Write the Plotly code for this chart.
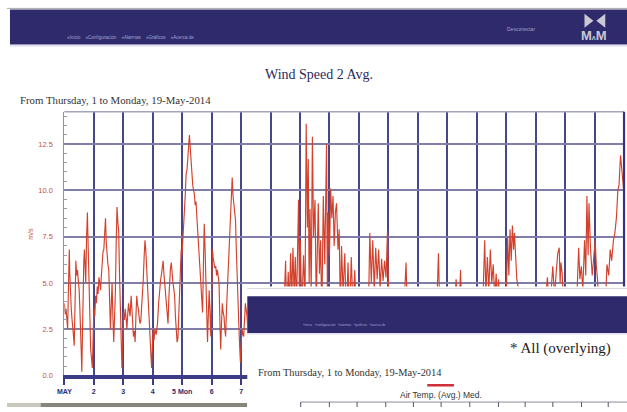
import plotly.graph_objects as go

W, H = 627, 412

# ---- data: wind speed 2 avg (m/s), May 2014, x = day of month ----
# first week (fully visible part), as (day, m/s)
week1 = [
    (1.000, 3.9), (1.028, 3.3), (1.056, 3.6), (1.084, 2.9), (1.112, 2.5), (1.140, 4.8),
    (1.168, 6.8), (1.184, 5.5), (1.200, 4.6), (1.218, 4.1), (1.235, 3.6), (1.257, 3.1),
    (1.279, 2.8), (1.307, 2.2), (1.335, 1.6), (1.363, 4.4), (1.391, 6.2), (1.419, 5.4),
    (1.447, 5.7), (1.475, 5.1), (1.503, 4.6), (1.531, 3.4), (1.559, 2.5), (1.575, 1.2),
    (1.592, 0.2), (1.615, 3.1), (1.637, 5.0), (1.660, 6.2), (1.682, 6.8), (1.704, 5.6),
    (1.726, 5.0), (1.754, 7.4), (1.782, 8.8), (1.810, 6.9), (1.838, 4.3), (1.866, 2.6),
    (1.894, 1.4), (1.922, 0.9), (1.950, 0.4), (1.978, 2.2), (2.006, 3.6), (2.034, 3.2),
    (2.061, 4.3), (2.089, 3.9), (2.117, 4.8), (2.145, 4.4), (2.173, 5.3), (2.201, 5.0),
    (2.230, 4.6), (2.257, 5.4), (2.285, 6.1), (2.312, 6.7), (2.340, 6.8), (2.368, 7.6),
    (2.397, 8.5), (2.423, 7.2), (2.450, 6.4), (2.479, 6.0), (2.508, 5.7), (2.536, 3.9),
    (2.564, 2.5), (2.592, 3.8), (2.620, 5.0), (2.648, 3.2), (2.676, 1.8), (2.704, 3.1),
    (2.732, 4.5), (2.760, 7.2), (2.788, 9.1), (2.816, 8.3), (2.844, 7.8), (2.871, 5.6),
    (2.899, 3.9), (2.927, 2.0), (2.955, 0.4), (2.983, 1.9), (3.011, 3.4), (3.039, 3.0),
    (3.067, 3.6), (3.095, 3.1), (3.123, 2.5), (3.151, 3.3), (3.179, 3.9), (3.205, 3.5),
    (3.230, 3.2), (3.250, 3.8), (3.268, 4.3), (3.307, 3.2), (3.346, 2.1), (3.374, 2.4),
    (3.402, 1.8), (3.430, 3.2), (3.458, 4.3), (3.486, 3.8), (3.514, 3.6), (3.542, 3.1),
    (3.570, 2.8), (3.598, 3.0), (3.626, 3.6), (3.653, 4.3), (3.680, 5.2), (3.708, 6.4),
    (3.737, 7.3), (3.763, 6.8), (3.790, 6.0), (3.820, 5.0), (3.849, 4.3), (3.880, 3.0),
    (3.910, 2.1), (3.935, 1.2), (3.961, 0.4), (3.989, 1.6), (4.017, 2.5), (4.045, 1.9),
    (4.073, 2.5), (4.118, 2.2), (4.162, 2.8), (4.200, 3.9), (4.240, 5.0), (4.270, 5.2),
    (4.300, 5.5), (4.326, 5.9), (4.352, 6.2), (4.380, 5.5), (4.408, 5.0), (4.436, 4.1),
    (4.464, 3.6), (4.492, 3.2), (4.520, 2.8), (4.548, 4.2), (4.575, 5.3), (4.603, 5.8),
    (4.631, 6.1), (4.659, 5.4), (4.687, 5.0), (4.715, 4.7), (4.743, 4.3), (4.771, 3.2),
    (4.799, 2.5), (4.827, 1.8), (4.855, 2.0), (4.883, 3.2), (4.911, 4.3), (4.938, 5.8),
    (4.966, 6.8), (4.994, 6.5), (5.022, 7.3), (5.050, 7.7), (5.078, 8.5), (5.106, 9.8),
    (5.134, 10.9), (5.162, 11.1), (5.190, 11.7), (5.218, 12.2), (5.246, 13.0), (5.274, 12.3),
    (5.302, 11.4), (5.330, 10.6), (5.358, 10.3), (5.385, 10.0), (5.413, 9.8), (5.441, 9.2),
    (5.469, 9.4), (5.497, 8.6), (5.525, 7.8), (5.553, 7.4), (5.581, 6.9), (5.609, 6.1),
    (5.637, 5.0), (5.665, 4.2), (5.693, 3.4), (5.721, 6.0), (5.749, 8.2), (5.776, 6.9),
    (5.804, 5.3), (5.832, 3.4), (5.860, 1.8), (5.888, 3.3), (5.916, 4.6), (5.944, 3.4),
    (5.972, 2.1), (6.000, 4.3), (6.028, 6.8), (6.056, 6.3), (6.084, 6.1), (6.112, 5.8),
    (6.140, 5.9), (6.168, 5.4), (6.196, 5.7), (6.224, 5.2), (6.251, 5.0), (6.279, 3.0),
    (6.307, 1.4), (6.335, 2.8), (6.363, 3.9), (6.391, 3.4), (6.419, 3.2), (6.447, 2.5),
    (6.475, 2.1), (6.503, 3.5), (6.531, 4.6), (6.559, 5.8), (6.587, 6.8), (6.615, 7.9),
    (6.642, 8.9), (6.670, 9.9), (6.698, 10.7), (6.726, 9.7), (6.754, 9.3), (6.782, 8.6),
    (6.810, 8.4), (6.838, 6.8), (6.866, 5.0), (6.894, 3.8), (6.922, 2.8), (6.950, 1.6),
    (6.978, 0.7), (7.006, 1.8), (7.034, 2.5), (7.062, 2.2), (7.089, 2.1), (7.117, 3.0),
    (7.145, 3.9),
]

# rest of the period (partly under the overlying window)
day_rest = [
    7.20, 7.26, 7.32, 7.38, 7.45, 7.52, 7.58, 7.65, 7.72, 7.78, 7.85, 7.92, 8.00, 8.06, 8.13,
    8.20, 8.27, 8.33, 8.40, 8.46, 8.51, 8.55, 8.60, 8.64, 8.68, 8.72, 8.76, 8.80, 8.84, 8.88,
    8.92, 8.95, 8.98, 9.01, 9.06, 9.12, 9.17, 9.21, 9.25, 9.28, 9.31, 9.34, 9.38, 9.42, 9.46,
    9.51, 9.55, 9.59, 9.62, 9.66, 9.70, 9.74, 9.79, 9.84, 9.90, 9.93, 9.95, 10.00, 10.04, 10.08,
    10.12, 10.16, 10.20, 10.24, 10.29, 10.33, 10.37, 10.41, 10.46, 10.52, 10.57, 10.63, 10.68,
    10.74, 10.80, 10.86, 10.92, 11.00, 11.07, 11.14, 11.21, 11.28, 11.33, 11.37, 11.42, 11.47,
    11.52, 11.57, 11.62, 11.67, 11.72, 11.77, 11.82, 11.87, 11.92, 11.97, 12.02, 12.08, 12.16,
    12.24, 12.32, 12.40, 12.48, 12.55, 12.60, 12.64, 12.70, 12.78, 12.86, 12.94, 13.02, 13.10,
    13.18, 13.26, 13.34, 13.42, 13.50, 13.58, 13.65, 13.70, 13.74, 13.80, 13.88, 13.96, 14.04,
    14.12, 14.20, 14.26, 14.30, 14.35, 14.41, 14.45, 14.50, 14.58, 14.66, 14.74, 14.82, 14.90,
    14.96, 15.02, 15.08, 15.14, 15.20, 15.27, 15.31, 15.36, 15.41, 15.46, 15.51, 15.56, 15.61,
    15.66, 15.70, 15.74, 15.80, 15.87, 15.94, 16.00, 16.05, 16.09, 16.13, 16.17, 16.21, 16.25,
    16.28, 16.32, 16.36, 16.40, 16.45, 16.52, 16.60, 16.68, 16.76, 16.84, 16.92, 17.00, 17.08,
    17.16, 17.24, 17.32, 17.40, 17.45, 17.52, 17.58, 17.64, 17.70, 17.75, 17.80, 17.83, 17.86,
    17.90, 17.95, 18.02, 18.10, 18.18, 18.26, 18.34, 18.40, 18.46, 18.50, 18.55, 18.60, 18.66,
    18.70, 18.74, 18.78, 18.81, 18.86, 18.92, 18.97, 19.02, 19.06, 19.10, 19.15, 19.22, 19.30,
    19.37, 19.42, 19.48, 19.53, 19.58, 19.64, 19.69, 19.74, 19.79, 19.83, 19.88, 19.93, 20.00,
]

speed_rest = [
    3.2, 1.8, 3.5, 2.2, 3.8, 2.6, 1.2, 2.9, 3.6, 2.0, 1.5, 2.8, 3.4, 2.1, 3.9,
    2.4, 3.0, 4.1, 2.6, 3.8, 6.2, 3.2, 5.6, 3.8, 6.6, 4.2, 6.9, 4.4, 6.4, 3.6,
    6.8, 9.5, 4.2, 7.3, 3.5, 6.5, 4.0, 13.6, 8.0, 11.7, 5.0, 9.0, 4.5, 12.9, 7.5,
    9.5, 3.8, 7.8, 9.3, 5.5, 7.3, 3.0, 9.7, 6.0, 12.5, 4.0, 8.8, 6.5, 10.1, 8.5,
    9.7, 7.0, 8.8, 9.3, 6.8, 7.9, 3.5, 7.0, 4.5, 6.6, 3.0, 6.1, 2.8,
    6.4, 3.5, 5.7, 2.5, 3.1, 1.6, 2.7, 3.9, 2.3, 4.2, 7.7, 5.0, 7.3,
    4.6, 6.9, 5.2, 6.8, 4.7, 6.3, 5.1, 6.2, 5.3, 7.8, 3.2, 1.8, 2.9,
    1.2, 2.5, 3.4, 2.0, 4.0, 6.1, 3.6, 2.2, 1.0, 2.4, 3.3, 1.7, 0.8,
    2.1, 3.0, 1.9, 2.8, 3.5, 2.2, 4.1, 6.6, 3.8, 2.6, 1.5, 2.7, 1.3,
    2.4, 3.6, 4.2, 5.2, 3.4, 4.0, 5.7, 3.0, 2.0, 3.1, 1.6, 2.9, 3.8,
    2.5, 3.9, 2.8, 4.2, 3.6, 7.3, 4.4, 6.4, 4.6, 6.8, 5.0, 6.0, 4.2,
    5.5, 3.9, 5.2, 3.0, 2.2, 3.4, 4.0, 7.5, 5.4, 7.9, 6.2, 8.1, 6.8,
    7.7, 6.2, 5.2, 4.8, 3.5, 2.4, 3.3, 1.8, 2.6, 3.8, 2.2, 1.5, 2.8,
    3.6, 2.4, 3.9, 5.3, 3.7, 4.4, 5.9, 4.3, 5.6, 6.6, 6.9, 5.0, 6.1,
    5.5, 3.6, 2.0, 3.2, 1.9, 2.8, 3.7, 4.3, 6.9, 5.2, 5.9, 4.6, 7.3,
    5.4, 9.7, 6.5, 9.3, 6.9, 5.4, 6.6, 7.3, 5.9, 5.2, 3.4, 3.8, 4.2,
    3.9, 6.0, 5.4, 6.8, 6.2, 7.3, 7.7, 8.5, 10.0, 10.3, 11.9, 10.9, 9.8,
]

y_tickvals = [0, 2.5, 5, 7.5, 10, 12.5]
y_ticktext = ["0.0", "2.5", "5.0", "7.5", "10.0", "12.5"]
x_tickvals = list(range(1, 21))
# only the first week's labels are visible (the rest lie under the overlying window)
x_ticktext = ["MAY", "2", "3", "4", "5 Mon", "6", "7"] + [""] * 13

day = [d for d, _ in week1] + day_rest
wind_speed = [v for _, v in week1] + speed_rest

NAVY = "#2e2a6c"
RED = "#d3412c"


def px(x):
    return x / W


def py(y):
    return 1 - y / H


fig = go.Figure()
fig.add_trace(go.Scatter(x=day, y=wind_speed, mode="lines",
                         line=dict(color=RED, width=1.15), showlegend=False,
                         hoverinfo="skip"))

shapes = []


def rect(x0, y0, x1, y1, fill, line_color=None, lw=0):
    shapes.append(dict(type="rect", xref="paper", yref="paper",
                       x0=px(x0), x1=px(x1), y0=py(y1), y1=py(y0),
                       fillcolor=fill, line=dict(width=lw, color=line_color or fill),
                       layer="above"))


def line(x0, y0, x1, y1, color, lw=1):
    shapes.append(dict(type="line", xref="paper", yref="paper",
                       x0=px(x0), x1=px(x1), y0=py(y0), y1=py(y1),
                       line=dict(color=color, width=lw), layer="above"))


# top header
line(0, 8.5, W, 8.5, "#a8a8a8", 1)
rect(3, 9.5, W, 45, NAVY)
line(3, 46.5, W, 46.5, "#cfcfe8", 1)
# logo bow-tie
shapes.append(dict(type="path", xref="paper", yref="paper",
                   path=f"M {px(584)} {py(14)} L {px(593)} {py(21)} L {px(584)} {py(28)} Z",
                   fillcolor="#c9c9d6", line=dict(width=0), layer="above"))
shapes.append(dict(type="path", xref="paper", yref="paper",
                   path=f"M {px(605)} {py(14)} L {px(596)} {py(21)} L {px(605)} {py(28)} Z",
                   fillcolor="#c9c9d6", line=dict(width=0), layer="above"))

# main plot border pieces
line(58, 113, 624, 113, "#a4a4bc", 1.5)
line(624, 113, 624, 380, "#34347e", 2.2)

# bottom-left strip of another window
rect(0, 408, 34, 412, "#c8c8bc")
rect(34, 408, 243, 412, "#86867a")

# overlying window
rect(243, 290, W, 412, "#ffffff")
line(243, 292, W, 292, "#d8d8e8", 1)
rect(243, 300, W, 337, NAVY)
line(243, 338, W, 338, "#cfcfe8", 1)
line(425, 390, 452, 390, "#d0303a", 2.5)
line(297, 407, W, 407, "#8c8c9c", 1)
for tx in [297, 326, 354, 383, 411, 439, 468, 497, 524, 552, 581, 608]:
    line(tx, 407, tx, 412, "#555566", 1)

ann = []


def text(x, y, s, size, color, family="Liberation Sans", xanchor="left",
         yanchor="middle", angle=0, weight=None):
    f = dict(size=size, color=color, family=family)
    if weight:
        f["weight"] = weight
    ann.append(dict(xref="paper", yref="paper", x=px(x), y=py(y), text=s,
                    showarrow=False, xanchor=xanchor, yanchor=yanchor,
                    font=f, textangle=angle, borderpad=0))


# header texts
text(60, 38, "»Inicio &nbsp;&nbsp; »Configuración &nbsp;&nbsp; »Alarmas &nbsp;&nbsp; »Gráficos &nbsp;&nbsp; »Acerca de",
     4.6, "#a2a2d4")
text(520, 29, "Desconectar", 5, "#a2a2cc", xanchor="center")
text(594, 36, "M<span style='font-size:7px'>ʌ</span>M", 13, "#c9c9d6",
     xanchor="center", weight="bold")

# titles
text(316, 75, "Wind Speed 2 Avg.", 14, "#2a2a5e", family="Liberation Serif",
     xanchor="center")
text(12, 101, "From Thursday, 1 to Monday, 19-May-2014", 10.8, "#333333",
     family="Liberation Serif")
text(23, 237, "m/s", 7, "#cc5040", xanchor="center", angle=-90)

# overlying window texts
text(298, 329, "»inicio &nbsp; »configuración &nbsp; »alarmas &nbsp; »gráficos &nbsp; »acerca de",
     3.2, "#a2a2d4")
text(612, 353, "* All (overlying)", 15, "#222222", family="Liberation Serif",
     xanchor="right")
text(253, 377, "From Thursday, 1 to Monday, 19-May-2014", 10.4, "#333333",
     family="Liberation Serif")
text(439, 400, "Air Temp. (Avg.) Med.", 8.5, "#333333", xanchor="center")

fig.update_layout(
    width=W, height=H,
    margin=dict(l=0, r=0, t=0, b=0),
    paper_bgcolor="#ffffff", plot_bgcolor="#ffffff",
    showlegend=False,
    shapes=shapes, annotations=ann,
    xaxis=dict(domain=[px(58), px(624)], range=[1, 20],
               tickmode="array", tickvals=x_tickvals, ticktext=x_ticktext,
               showgrid=True, gridcolor="#46468c", gridwidth=1.5,
               zeroline=False, showline=True, linecolor="#3b3b86", linewidth=4,
               ticks="outside", ticklen=6, tickwidth=1.5, tickcolor="#3b3b86",
               tickfont=dict(size=7, color=NAVY, family="Liberation Sans", weight="bold"),
               fixedrange=True),
    yaxis=dict(domain=[py(380), py(113)], range=[0, 14.26],
               tickmode="array", tickvals=y_tickvals, ticktext=y_ticktext,
               showgrid=True, gridcolor="#7e7ea8", gridwidth=1.5,
               zeroline=False, showline=True, linecolor="#9090a8", linewidth=1,
               ticks="inside", ticklen=5, tickcolor="#8888a0",
               minor=dict(ticks="inside", ticklen=3, dtick=0.5, tickcolor="#9a9ab0",
                          showgrid=False),
               tickfont=dict(size=7.5, color="#cc5040", family="Liberation Sans"),
               ticklabelstandoff=9,
               fixedrange=True),
)

fig.write_html("out.html", config={"displayModeBar": False},
               post_script="document.body.style.margin='0';document.body.style.overflow='hidden';")
